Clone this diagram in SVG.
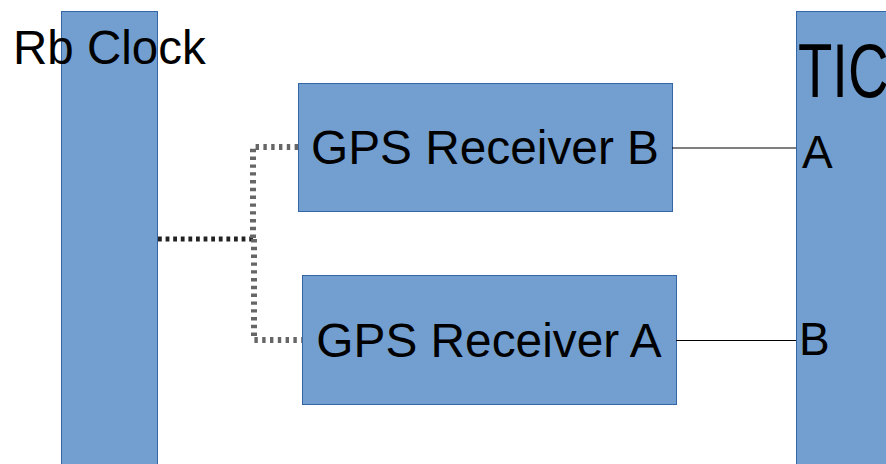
<svg xmlns="http://www.w3.org/2000/svg" width="886" height="464" viewBox="0 0 886 464">
  <style>
    .box { fill: #729fcf; stroke: #3465a4; stroke-width: 1; }
    .lbl { font-family: "Liberation Sans", Arial, sans-serif; fill: #000; }
    .wire { stroke: #000; stroke-width: 1; fill: none; }
    .ref { stroke: #222; stroke-width: 5; stroke-dasharray: 3.8 3.8; fill: none; }
    .dist { stroke: #666; stroke-width: 6; stroke-dasharray: 3.4 4.4; fill: none; }
  </style>
  <rect width="886" height="464" fill="#fff"/>

  <g id="rb-clock">
    <rect class="box" x="61.5" y="11.5" width="96" height="460"/>
    <text class="lbl" x="13" y="64" font-size="47.5">Rb Clock</text>
  </g>

  <g id="tic">
    <rect class="box" x="796.5" y="11.5" width="100" height="460"/>
    <!-- condensed title running off the right edge -->
    <text class="lbl" transform="translate(798 97) scale(0.74 1)" font-size="76">TIC</text>
    <text class="lbl" x="802" y="168" font-size="46">A</text>
    <text class="lbl" x="799" y="355" font-size="46">B</text>
  </g>

  <g id="gps-b">
    <rect class="box" x="298.5" y="83.5" width="374" height="128"/>
    <text class="lbl" x="485" y="164" font-size="47.8" text-anchor="middle">GPS Receiver B</text>
  </g>

  <g id="gps-a">
    <rect class="box" x="302.5" y="275.5" width="374" height="129"/>
    <text class="lbl" x="489" y="357" font-size="47.8" text-anchor="middle">GPS Receiver A</text>
  </g>

  <g id="connectors">
    <line class="wire" x1="672" y1="148" x2="796" y2="148"/>
    <line class="wire" x1="676" y1="340.5" x2="796" y2="340.5"/>
    <line class="ref" x1="158" y1="239" x2="254" y2="239"/>
    <polyline class="dist" points="298,147 253,147 253,239"/>
    <polyline class="dist" points="254,239 254,340 302,340"/>
  </g>
</svg>
